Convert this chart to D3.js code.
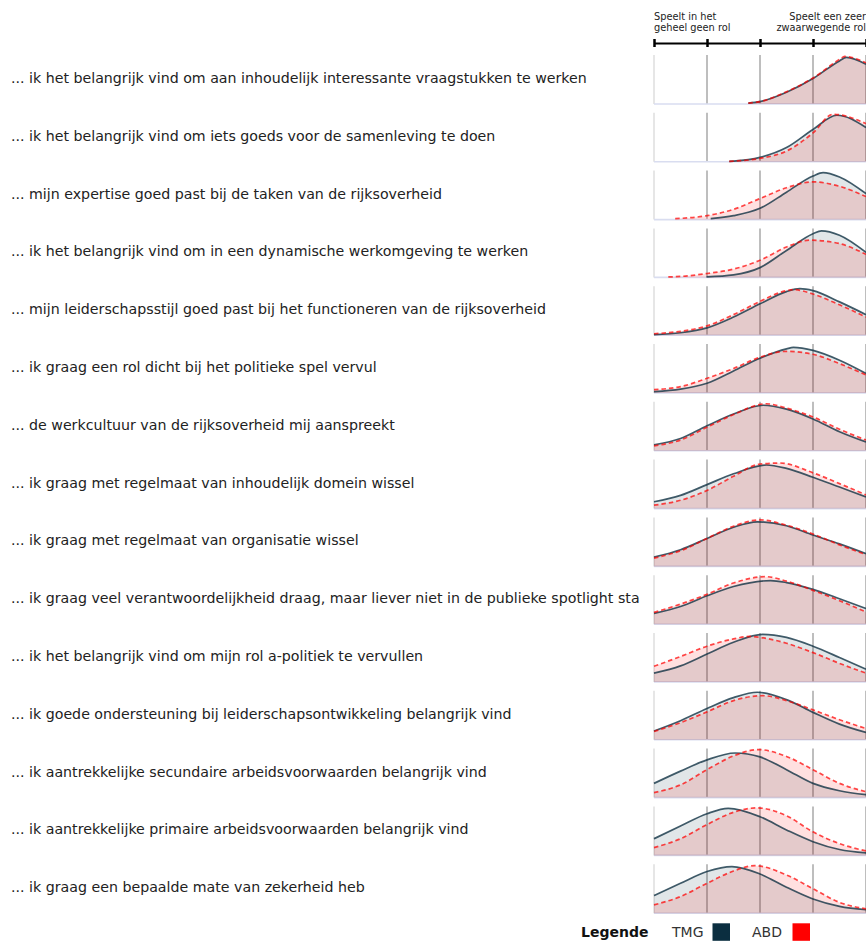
<!DOCTYPE html>
<html>
<head>
<meta charset="utf-8">
<script src="https://cdnjs.cloudflare.com/ajax/libs/d3/7.8.5/d3.min.js"></script>
<style>
	body { margin: 0; background: #fff; }
	svg { display: block; font-family: "DejaVu Sans", Verdana, sans-serif; }
</style>
</head>
<body>
<svg id="chart" width="866" height="942"></svg>
<script>

// statements (left column)
var items = [
	"... ik het belangrijk vind om aan inhoudelijk interessante vraagstukken te werken",
	"... ik het belangrijk vind om iets goeds voor de samenleving te doen",
	"... mijn expertise goed past bij de taken van de rijksoverheid",
	"... ik het belangrijk vind om in een dynamische werkomgeving te werken",
	"... mijn leiderschapsstijl goed past bij het functioneren van de rijksoverheid",
	"... ik graag een rol dicht bij het politieke spel vervul",
	"... de werkcultuur van de rijksoverheid mij aanspreekt",
	"... ik graag met regelmaat van inhoudelijk domein wissel",
	"... ik graag met regelmaat van organisatie wissel",
	"... ik graag veel verantwoordelijkheid draag, maar liever niet in de publieke spotlight sta",
	"... ik het belangrijk vind om mijn rol a-politiek te vervullen",
	"... ik goede ondersteuning bij leiderschapsontwikkeling belangrijk vind",
	"... ik aantrekkelijke secundaire arbeidsvoorwaarden belangrijk vind",
	"... ik aantrekkelijke primaire arbeidsvoorwaarden belangrijk vind",
	"... ik graag een bepaalde mate van zekerheid heb"
];

// density per group, [score, relative height]
var tmgDensity = [
	[[2.78,0.02],[3,0.05],[3.5,0.24],[4,0.52],[4.5,0.88],[4.63,0.95],[5,0.81]],
	[[2.42,0.01],[2.5,0.015],[3,0.09],[3.5,0.29],[4,0.66],[4.45,0.95],[5,0.70]],
	[[2.07,0.02],[2.5,0.08],[3,0.23],[3.5,0.56],[4,0.89],[4.19,0.96],[4.5,0.87],[5,0.53]],
	[[1.99,0.01],[2.5,0.05],[3,0.2],[3.5,0.55],[4,0.89],[4.16,0.95],[4.5,0.86],[5,0.51]],
	[[1,0.01],[1.5,0.05],[2,0.15],[2.5,0.37],[3,0.64],[3.5,0.89],[3.75,0.95],[4,0.91],[4.5,0.68],[5,0.42]],
	[[1,0.03],[1.5,0.08],[2,0.2],[2.5,0.45],[3,0.71],[3.5,0.9],[3.63,0.93],[4,0.87],[4.5,0.67],[5,0.4]],
	[[1,0.12],[1.5,0.25],[2,0.51],[2.5,0.75],[3.06,0.93],[3.5,0.85],[4,0.65],[4.5,0.39],[5,0.18]],
	[[1,0.14],[1.5,0.27],[2,0.49],[2.5,0.71],[3.12,0.89],[3.5,0.82],[4,0.64],[4.5,0.44],[5,0.24]],
	[[1,0.19],[1.5,0.34],[2,0.57],[2.5,0.8],[2.95,0.91],[3.5,0.83],[4,0.64],[4.5,0.46],[5,0.26]],
	[[1,0.22],[1.5,0.36],[2,0.58],[2.5,0.77],[3.2,0.89],[3.5,0.85],[4,0.71],[4.5,0.52],[5,0.32]],
	[[1,0.18],[1.5,0.33],[2,0.57],[2.5,0.81],[3.05,0.97],[3.5,0.91],[4,0.73],[4.5,0.5],[5,0.26]],
	[[1,0.18],[1.5,0.39],[2,0.64],[2.5,0.86],[2.95,0.97],[3.5,0.82],[4,0.56],[4.5,0.32],[5,0.15]],
	[[1,0.29],[1.5,0.54],[2,0.77],[2.53,0.91],[3,0.83],[3.5,0.57],[4,0.29],[4.5,0.14],[5,0.06]],
	[[1,0.34],[1.5,0.6],[2,0.85],[2.4,0.96],[3,0.79],[3.5,0.52],[4,0.28],[4.5,0.12],[5,0.05]],
	[[1,0.36],[1.5,0.61],[2,0.85],[2.47,0.95],[3,0.8],[3.5,0.53],[4,0.29],[4.5,0.14],[5,0.07]]
];

var abdDensity = [
	[[2.78,0.02],[3,0.05],[3.5,0.25],[4,0.53],[4.5,0.91],[4.6,0.97],[5,0.84]],
	[[2.42,0.01],[3,0.07],[3.5,0.22],[4,0.59],[4.38,0.97],[4.5,0.96],[5,0.78]],
	[[1.4,0.02],[2,0.08],[2.5,0.21],[3,0.43],[3.5,0.65],[4,0.77],[4.5,0.68],[5,0.47]],
	[[1.27,0.01],[1.5,0.02],[2,0.08],[2.5,0.17],[3,0.35],[3.5,0.62],[3.94,0.76],[4.5,0.69],[5,0.47]],
	[[1,0.03],[1.5,0.08],[2,0.19],[2.5,0.42],[3,0.69],[3.5,0.91],[3.63,0.93],[4,0.84],[4.5,0.62],[5,0.37]],
	[[1,0.07],[1.5,0.13],[2,0.3],[2.5,0.5],[3,0.73],[3.5,0.85],[4,0.79],[4.5,0.6],[5,0.37]],
	[[1,0.10],[1.5,0.22],[2,0.48],[2.5,0.74],[3.12,0.96],[3.5,0.87],[4,0.69],[4.5,0.44],[5,0.22]],
	[[1,0.07],[1.5,0.17],[2,0.37],[2.5,0.66],[3,0.91],[3.38,0.93],[4,0.73],[4.5,0.51],[5,0.28]],
	[[1,0.17],[1.5,0.32],[2,0.57],[2.5,0.82],[3,0.95],[3.5,0.84],[4,0.66],[4.5,0.44],[5,0.24]],
	[[1,0.24],[1.5,0.41],[2,0.61],[2.5,0.84],[3.1,0.97],[3.5,0.88],[4,0.69],[4.5,0.48],[5,0.25]],
	[[1,0.32],[1.5,0.52],[2,0.73],[2.5,0.88],[2.81,0.93],[3,0.91],[3.5,0.79],[4,0.6],[4.5,0.38],[5,0.18]],
	[[1,0.17],[1.5,0.35],[2,0.57],[2.5,0.8],[3.05,0.9],[3.5,0.8],[4,0.61],[4.5,0.41],[5,0.23]],
	[[1,0.1],[1.5,0.26],[2,0.57],[2.5,0.85],[2.97,0.98],[3.5,0.84],[4,0.57],[4.5,0.29],[5,0.12]],
	[[1,0.16],[1.5,0.34],[2,0.63],[2.5,0.88],[2.94,0.97],[3.5,0.81],[4,0.48],[4.5,0.24],[5,0.09]],
	[[1,0.17],[1.5,0.34],[2,0.61],[2.5,0.86],[2.9,0.97],[3.5,0.78],[4,0.5],[4.5,0.22],[5,0.09]]
];

var scaleTicks = [1, 2, 3, 4, 5];
var scaleEnds = [["Speelt in het", "geheel geen rol"], ["Speelt een zeer", "zwaarwegende rol"]];
var groups = ["TMG", "ABD"];
var groupColor = ["#0b2e40", "#ff0000"];


var svg = d3.select("#chart");

var x = d3.scaleLinear().domain([1, 5]).range([654, 866]);

var row = d3.scaleBand()
	.domain(d3.range(items.length))
	.range([55, 913.2])
	.paddingInner(0.152)
	.paddingOuter(0);

var h = row.bandwidth();
var y = d3.scaleLinear().domain([0, 1]).range([h, 0]);

var area = d3.area()
	.x(function(d) { return x(d[0]); })
	.y0(h)
	.y1(function(d) { return y(d[1]); })
	.curve(d3.curveMonotoneX);

var line = area.lineY1();


// top scale with its two end labels
var axisG = svg.append("g").attr("transform", "translate(0,43)");
axisG.call(d3.axisBottom(x).tickValues(scaleTicks).tickFormat("").tickSizeOuter(0));
axisG.select(".domain").attr("stroke", "#000").attr("stroke-width", 2);
axisG.selectAll(".tick line")
	.attr("y1", -4).attr("y2", 4)
	.attr("stroke", "#000").attr("stroke-width", 2.5);

scaleEnds.forEach(function(lines, i) {
	var t = svg.append("text")
		.attr("x", i === 0 ? x(1) : x(5))
		.attr("text-anchor", i === 0 ? "start" : "end")
		.attr("font-size", 9.8)
		.attr("fill", "#222");
	lines.forEach(function(s, j) {
		t.append("tspan").attr("x", i === 0 ? x(1) : x(5)).attr("y", 19.5 + j * 11.5).text(s);
	});
});


// one row per statement
var rows = svg.selectAll(".row")
	.data(items)
	.enter()
	.append("g")
	.attr("class", "row")
	.attr("transform", function(d, i) { return "translate(0," + row(i) + ")"; });

rows.append("text")
	.attr("x", 11)
	.attr("y", h / 2 + 3.5)
	.attr("font-size", 14.2)
	.attr("fill", "#222")
	.text(function(d) { return d; });

rows.selectAll(".grid")
	.data(scaleTicks)
	.enter()
	.append("line")
	.attr("class", "grid")
	.attr("x1", function(d) { return x(d); })
	.attr("x2", function(d) { return x(d); })
	.attr("y1", 0)
	.attr("y2", h)
	.attr("stroke", function(d) { return d === 1 ? "#e2e2e2" : "#b3b3b3"; })
	.attr("stroke-width", 1.7);

rows.append("line")
	.attr("x1", x(1)).attr("x2", x(5))
	.attr("y1", h).attr("y2", h)
	.attr("stroke", "#d9ddf0")
	.attr("stroke-width", 1.6);

rows.append("path")
	.attr("d", function(d, i) { return area(tmgDensity[i]); })
	.attr("fill", groupColor[0])
	.attr("fill-opacity", 0.12);

rows.append("path")
	.attr("d", function(d, i) { return area(abdDensity[i]); })
	.attr("fill", groupColor[1])
	.attr("fill-opacity", 0.12);

rows.append("path")
	.attr("d", function(d, i) { return line(tmgDensity[i]); })
	.attr("fill", "none")
	.attr("stroke", groupColor[0])
	.attr("stroke-opacity", 0.78)
	.attr("stroke-width", 1.7);

rows.append("path")
	.attr("d", function(d, i) { return line(abdDensity[i]); })
	.attr("fill", "none")
	.attr("stroke", groupColor[1])
	.attr("stroke-opacity", 0.72)
	.attr("stroke-width", 1.7)
	.attr("stroke-dasharray", "4.5,3");


// legend
var legend = svg.append("g").attr("transform", "translate(0,937)");

legend.append("text")
	.attr("x", 581)
	.attr("font-size", 14)
	.attr("font-weight", "bold")
	.attr("fill", "#111")
	.text("Legende");

var legendX = [672, 752];
groups.forEach(function(g, i) {
	legend.append("text")
		.attr("x", legendX[i])
		.attr("font-size", 14)
		.attr("fill", "#333")
		.text(g);
	legend.append("rect")
		.attr("x", legendX[i] + 40.5)
		.attr("y", -13.7)
		.attr("width", 17.5)
		.attr("height", 17.5)
		.attr("fill", groupColor[i]);
});

</script>
</body>
</html>
